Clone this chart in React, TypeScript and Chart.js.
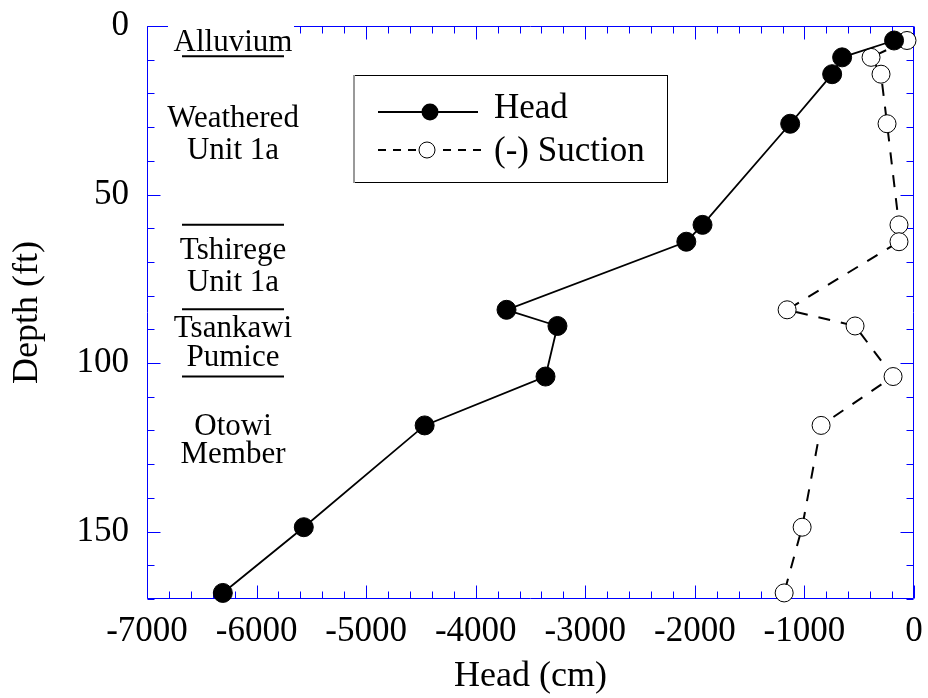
import React, { useEffect, useRef } from 'react';
import { Chart, registerables } from 'chart.js';
Chart.register(...registerables);

// ---- data ----
const depthFt = [4.3, 9.3, 14.3, 29, 59, 64, 84.2, 89, 104, 118.5, 148.7, 168.2];
const headCm = [-182, -656, -747, -1130, -1930, -2078, -3719, -3254, -3363, -4466, -5569, -6308];
const suctionCm = [-64, -392, -301, -246, -137, -137, -1158, -538, -191, -848, -1021, -1185];

const xTickValues = [-7000, -6000, -5000, -4000, -3000, -2000, -1000, 0];
const yTickValues = [0, 50, 100, 150];
const xMinorStep = 200;
const yMinorStep = 10;

const layerBoundaries = [9, 59, 84, 104];
const layerLabels: string[][] = [
  ['Alluvium'],
  ['Weathered', 'Unit 1a'],
  ['Tshirege', 'Unit 1a'],
  ['Tsankawi', 'Pumice'],
  ['Otowi', 'Member'],
];
const seriesNames = ['Head', '(-) Suction'];

const SERIF = '"Liberation Serif", "Times New Roman", serif';
const BLUE = '#0000ff';

const framePlugin = {
  id: 'frameTicks',
  beforeDatasetsDraw(chart: any) {
    const { ctx, chartArea: a, scales } = chart;
    const x = scales.x, y = scales.y;
    ctx.save();
    ctx.strokeStyle = BLUE;
    ctx.lineWidth = 1;
    const L = Math.round(a.left) + 0.5, R = Math.round(a.right) - 0.5;
    const T = Math.round(a.top) + 0.5, B = Math.round(a.bottom) - 0.5;
    ctx.beginPath();
    ctx.rect(L, T, R - L, B - T);
    const xMin = xTickValues[0], xMax = xTickValues[xTickValues.length - 1];
    for (let v = xMin; v <= xMax + 1e-6; v += xMinorStep) {
      const px = Math.round(x.getPixelForValue(v)) + 0.5;
      const len = xTickValues.includes(v) ? 13 : 7;
      ctx.moveTo(px, B); ctx.lineTo(px, B - len);
      ctx.moveTo(px, T); ctx.lineTo(px, T + len);
    }
    for (let v = 0; v <= 170 + 1e-6; v += yMinorStep) {
      const py = Math.round(y.getPixelForValue(v)) + 0.5;
      const len = yTickValues.includes(v) ? 13 : 7;
      ctx.moveTo(L, py); ctx.lineTo(L + len, py);
      ctx.moveTo(R, py); ctx.lineTo(R - len, py);
    }
    ctx.stroke();
    ctx.restore();
  },
  afterDraw(chart: any) {
    const { ctx, scales } = chart;
    const y = scales.y;
    ctx.save();
    // white box behind Alluvium (covers top frame)
    ctx.fillStyle = '#ffffff';
    ctx.fillRect(168, 18, 126, 36);
    ctx.fillStyle = '#000000';
    ctx.font = `31px ${SERIF}`;
    ctx.textAlign = 'center';
    ctx.textBaseline = 'alphabetic';
    const cx = 233;
    const baselines = [[51], [127, 159], [259, 291], [337, 366], [435, 463]];
    layerLabels.forEach((lines, i) => {
      lines.forEach((t, j) => ctx.fillText(t, cx, baselines[i][j]));
    });
    // boundary lines
    ctx.strokeStyle = '#000000';
    ctx.lineWidth = 2;
    ctx.beginPath();
    layerBoundaries.forEach((d) => {
      const py = y.getPixelForValue(d);
      ctx.moveTo(182, py); ctx.lineTo(284, py);
    });
    ctx.stroke();

    // legend
    ctx.fillStyle = '#ffffff';
    ctx.fillRect(353, 75, 315, 108);
    ctx.strokeStyle = '#000000';
    ctx.lineWidth = 1;
    ctx.strokeRect(353.5, 75.5, 314, 107);
    ctx.strokeStyle = '#999999';
    ctx.lineWidth = 2;
    ctx.beginPath(); ctx.moveTo(354, 75); ctx.lineTo(354, 183); ctx.stroke();

    ctx.strokeStyle = '#000000';
    ctx.lineWidth = 2;
    ctx.beginPath(); ctx.moveTo(378, 112); ctx.lineTo(478, 112); ctx.stroke();
    ctx.fillStyle = '#000000';
    ctx.beginPath(); ctx.arc(430, 112, 8.5, 0, Math.PI * 2); ctx.fill();

    ctx.setLineDash([8, 7]);
    ctx.beginPath(); ctx.moveTo(378, 150); ctx.lineTo(416, 150);
    ctx.moveTo(443, 150); ctx.lineTo(484, 150); ctx.stroke();
    ctx.setLineDash([]);
    ctx.lineWidth = 1;
    ctx.fillStyle = '#ffffff';
    ctx.beginPath(); ctx.arc(427, 150, 8, 0, Math.PI * 2); ctx.fill(); ctx.stroke();

    ctx.fillStyle = '#000000';
    ctx.font = `35px ${SERIF}`;
    ctx.textAlign = 'left';
    ctx.fillText(seriesNames[0], 494, 118);
    ctx.fillText(seriesNames[1], 494, 161);
    ctx.restore();
  },
};

export default function App() {
  const ref = useRef<HTMLCanvasElement | null>(null);
  useEffect(() => {
    if (!ref.current) return;
    const chart = new Chart(ref.current, {
      type: 'scatter',
      data: {
        datasets: [
          {
            label: seriesNames[0],
            data: depthFt.map((d, i) => ({ x: headCm[i], y: d })),
            showLine: true,
            borderColor: '#000000',
            borderWidth: 1.8,
            pointRadius: 9.5,
            pointBackgroundColor: '#000000',
            pointBorderColor: '#000000',
            pointBorderWidth: 1,
            clip: false as any,
          },
          {
            label: seriesNames[1],
            data: depthFt.map((d, i) => ({ x: suctionCm[i], y: d })),
            showLine: true,
            borderColor: '#000000',
            borderWidth: 2,
            borderDash: [12, 11],
            pointRadius: 9,
            pointBackgroundColor: '#ffffff',
            pointBorderColor: '#000000',
            pointBorderWidth: 1,
            clip: false as any,
          },
        ],
      },
      options: {
        responsive: false,
        animation: false,
        layout: { padding: { top: 26, right: 14, left: 0, bottom: 0 } },
        plugins: { legend: { display: false }, tooltip: { enabled: false } },
        scales: {
          x: {
            type: 'linear',
            min: -7000,
            max: 0,
            grid: { display: false, drawTicks: false },
            border: { display: false },
            afterBuildTicks: (s: any) => { s.ticks = xTickValues.map((v) => ({ value: v })); },
            afterFit: (s: any) => {
              s.height = 99;
              s.paddingLeft = 0; s.paddingRight = 0; s.paddingTop = 0; s.paddingBottom = 0;
            },
            ticks: {
              padding: 12,
              color: '#000000',
              font: { family: SERIF, size: 35 },
              maxRotation: 0,
              autoSkip: false,
              callback: (v: any) => String(v),
            },
            title: {
              display: true,
              text: 'Head (cm)',
              color: '#000000',
              font: { family: SERIF, size: 36, lineHeight: 1.2 },
              padding: 0,
            },
          },
          y: {
            type: 'linear',
            reverse: true,
            min: 0,
            max: 170,
            grid: { display: false, drawTicks: false },
            border: { display: false },
            afterBuildTicks: (s: any) => { s.ticks = yTickValues.map((v) => ({ value: v })); },
            afterFit: (s: any) => {
              s.width = 147;
              s.paddingLeft = 0; s.paddingRight = 0; s.paddingTop = 0; s.paddingBottom = 0;
            },
            ticks: {
              padding: 18,
              color: '#000000',
              font: { family: SERIF, size: 35 },
              autoSkip: false,
              callback: (v: any) => String(v),
            },
            title: {
              display: true,
              text: 'Depth (ft)',
              color: '#000000',
              font: { family: SERIF, size: 36, lineHeight: 1.2 },
              padding: 6,
            },
          },
        },
      },
      plugins: [framePlugin],
    });
    return () => chart.destroy();
  }, []);
  return (
    <div style={{ position: 'absolute', left: 0, top: 0, width: 928, height: 698, background: '#fff' }}>
      <canvas ref={ref} width={928} height={698} style={{ display: 'block' }} />
    </div>
  );
}
